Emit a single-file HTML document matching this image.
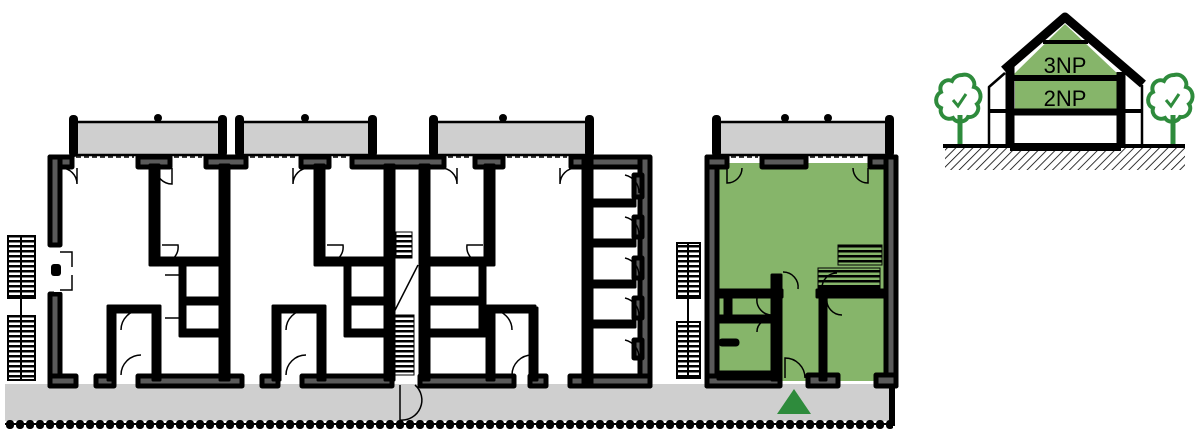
<!DOCTYPE html>
<html><head><meta charset="utf-8"><style>
html,body{margin:0;padding:0;background:#fff;width:1200px;height:442px;overflow:hidden}
svg{display:block}
text{font-family:"Liberation Sans",sans-serif}
</style></head><body>
<svg width="1200" height="442" viewBox="0 0 1200 442" xmlns="http://www.w3.org/2000/svg">
<defs>
<pattern id="hatch" width="6" height="6" patternUnits="userSpaceOnUse" patternTransform="rotate(45)">
<rect width="6" height="6" fill="#fff"/><line x1="0" y1="0" x2="0" y2="6" stroke="#000" stroke-width="1.6"/></pattern>
<pattern id="lad" width="8" height="5" patternUnits="userSpaceOnUse"><rect width="8" height="2.5" fill="#000"/></pattern>
<pattern id="dots" x="5" y="420" width="10" height="10" patternUnits="userSpaceOnUse"><rect x="1" y="0" width="8" height="9" rx="3.5" fill="#000"/></pattern>
</defs>

<rect x="5" y="384" width="890" height="37" fill="#cfcfcf"/>
<rect x="5" y="420" width="888" height="9" fill="url(#dots)"/>
<line x1="5" y1="424" x2="893" y2="424" stroke="#000" stroke-width="2"/>
<rect x="889" y="384" width="6" height="42" fill="#000"/>

<g fill="#cfcfcf" stroke="#000" stroke-width="2.5">
<rect x="72" y="122" width="153" height="33"/>
<rect x="238" y="122" width="134" height="33"/>
<rect x="433" y="122" width="156" height="33"/>
<rect x="716" y="122" width="173" height="33"/>
</g>
<g fill="#000">
<rect x="69" y="115" width="9" height="42" rx="4"/><rect x="218" y="115" width="9" height="42" rx="4"/>
<rect x="235" y="115" width="9" height="42" rx="4"/><rect x="368" y="115" width="9" height="42" rx="4"/>
<rect x="429" y="115" width="9" height="42" rx="4"/><rect x="585" y="115" width="9" height="42" rx="4"/>
<rect x="712" y="115" width="9" height="42" rx="4"/><rect x="885" y="115" width="9" height="42" rx="4"/>
<circle cx="158" cy="118" r="4"/><circle cx="305" cy="118" r="4"/><circle cx="503" cy="118" r="4"/>
<circle cx="785" cy="118" r="4"/><circle cx="828" cy="118" r="4"/>
</g>

<rect x="715" y="163" width="173" height="218" fill="#86b56a"/>

<g fill="#5a5a5a" stroke="#000" stroke-width="5" stroke-linejoin="round">
<rect x="50" y="157" width="22" height="10"/>
<rect x="138" y="157" width="32" height="10"/>
<rect x="206" y="157" width="40" height="10"/>
<rect x="301" y="157" width="28" height="10"/>
<rect x="352" y="157" width="92" height="10"/>
<rect x="475" y="157" width="28" height="10"/>
<rect x="571" y="157" width="78" height="10"/>
<rect x="50" y="157" width="10" height="88"/>
<rect x="50" y="294" width="10" height="92"/>
<rect x="640" y="157" width="10" height="229"/>
<rect x="50" y="376" width="26" height="10"/>
<rect x="96" y="376" width="18" height="10"/>
<rect x="138" y="376" width="104" height="10"/>
<rect x="262" y="376" width="16" height="10"/>
<rect x="302" y="376" width="90" height="10"/>
<rect x="420" y="376" width="94" height="10"/>
<rect x="530" y="376" width="16" height="10"/>
<rect x="570" y="376" width="80" height="10"/>
<rect x="707" y="157" width="10" height="229"/>
<rect x="707" y="157" width="20" height="10"/>
<rect x="762" y="157" width="44" height="10"/>
<rect x="870" y="157" width="26" height="10"/>
<rect x="886" y="157" width="10" height="229"/>
<rect x="707" y="376" width="73" height="10"/>
<rect x="808" y="375" width="30" height="11"/>
<rect x="876" y="375" width="20" height="11"/>
<rect x="634" y="175" width="8" height="22"/><rect x="634" y="217" width="8" height="20"/>
<rect x="634" y="258" width="8" height="20"/><rect x="634" y="298" width="8" height="20"/>
<rect x="634" y="340" width="8" height="18"/>
</g>
<rect x="54" y="248" width="8" height="44" fill="#fff"/>
<rect x="51" y="264" width="10" height="12" rx="3" fill="#000"/>
<g stroke="#000" stroke-width="1.5" stroke-dasharray="5,3">
<line x1="76" y1="157" x2="134" y2="157"/><line x1="174" y1="157" x2="202" y2="157"/>
<line x1="250" y1="157" x2="297" y2="157"/><line x1="333" y1="157" x2="348" y2="157"/>
<line x1="448" y1="157" x2="471" y2="157"/><line x1="507" y1="157" x2="567" y2="157"/>
<line x1="731" y1="157" x2="758" y2="157"/><line x1="810" y1="157" x2="866" y2="157"/>
</g>

<g fill="#000" stroke="#000" stroke-width="3" stroke-linejoin="round">
<rect x="150" y="165" width="9" height="100"/>
<rect x="160" y="258" width="65" height="7"/>
<rect x="220" y="165" width="9" height="215"/>
<rect x="180" y="298" width="45" height="6"/><rect x="180" y="330" width="45" height="6"/>
<rect x="180" y="265" width="5" height="70"/>
<rect x="108" y="308" width="7" height="72"/><rect x="108" y="306" width="48" height="6"/>
<rect x="153" y="306" width="7" height="74"/>
<rect x="315" y="165" width="9" height="100"/>
<rect x="325" y="258" width="65" height="7"/>
<rect x="385" y="165" width="9" height="215"/>
<rect x="345" y="298" width="45" height="6"/><rect x="345" y="330" width="45" height="6"/>
<rect x="345" y="265" width="5" height="70"/>
<rect x="273" y="308" width="7" height="72"/><rect x="273" y="306" width="48" height="6"/>
<rect x="318" y="306" width="7" height="74"/>
<rect x="420" y="165" width="9" height="215"/>
<rect x="430" y="258" width="58" height="7"/>
<rect x="485" y="165" width="9" height="100"/>
<rect x="430" y="298" width="55" height="6"/><rect x="430" y="330" width="55" height="6"/>
<rect x="480" y="265" width="5" height="70"/>
<rect x="487" y="306" width="48" height="6"/>
<rect x="487" y="308" width="7" height="72"/><rect x="530" y="308" width="7" height="72"/>
<rect x="583" y="160" width="9" height="225"/>
<rect x="593" y="200" width="42" height="6"/><rect x="593" y="240" width="42" height="6"/>
<rect x="593" y="281" width="42" height="6"/><rect x="593" y="321" width="42" height="6"/>
<rect x="718" y="290" width="64" height="7"/>
<rect x="817" y="290" width="68" height="7"/>
<rect x="772" y="275" width="9" height="105"/>
<rect x="820" y="297" width="6" height="83"/>
<rect x="718" y="316" width="62" height="6"/>
<rect x="725" y="297" width="6" height="20"/>
<rect x="720" y="340" width="18" height="5" rx="2"/>
<rect x="718" y="372" width="62" height="7"/>
</g>

<g fill="none" stroke="#000" stroke-width="1.5">
<path d="M77 168 v16 a16 16 0 0 0 -16 -16"/>
<path d="M172 168 v16 a16 16 0 0 1 -16 -16"/>
<path d="M293 168 v16 a16 16 0 0 1 16 -16"/>
<path d="M457 168 v16 a16 16 0 0 0 -16 -16"/>
<path d="M560 168 v16 a16 16 0 0 1 16 -16"/>
<path d="M162 245 h16 a16 16 0 0 1 -16 18"/>
<path d="M327 245 h16 a16 16 0 0 1 -16 18"/>
<path d="M483 245 h-16 a16 16 0 0 0 16 18"/>
<path d="M165 275 h15 M165 318 h15"/>
<path d="M60 252 h12 v15 M60 290 h12 v-15"/>
<path d="M121 330 a20 20 0 0 1 20 -20"/>
<path d="M121 375 a20 20 0 0 1 20 -20"/>
<path d="M286 330 a20 20 0 0 1 20 -20"/>
<path d="M286 375 a20 20 0 0 1 20 -20"/>
<path d="M512 330 a20 20 0 0 0 -20 -20"/>
<path d="M512 375 a20 20 0 0 1 20 -20"/>
<path d="M400 385 v35 a20 20 0 0 0 15 -35"/>
<path d="M625 175 a18 18 0 0 1 14 18 M625 217 a18 18 0 0 1 14 18 M625 258 a18 18 0 0 1 14 18 M625 298 a18 18 0 0 1 14 18 M625 340 a18 18 0 0 1 14 18"/>
<path d="M727 168 v15 a15 15 0 0 0 15 -15 M868 168 v15 a15 15 0 0 1 -15 -15"/>
<path d="M783 272 a15 15 0 0 1 15 17 M822 288 a15 15 0 0 1 15 -15"/>
<path d="M757 298 a15 15 0 0 0 15 17 M827 298 a15 15 0 0 0 15 17 M757 332 a12 12 0 0 1 15 -12"/>
<path d="M785 378 v-20 a20 20 0 0 1 20 20"/>
</g>

<g fill="url(#lad)" stroke="#000" stroke-width="1">
<rect x="396" y="232" width="16" height="26"/>
<rect x="394" y="315" width="20" height="60"/>
<rect x="838" y="245" width="44" height="20"/>
<rect x="818" y="268" width="62" height="20"/>
</g>
<line x1="390" y1="320" x2="418" y2="265" stroke="#000" stroke-width="1.5"/>

<g fill="url(#lad)" stroke="#000" stroke-width="2">
<rect x="8" y="236" width="27" height="62"/>
<rect x="8" y="316" width="27" height="64"/>
<rect x="677" y="243" width="23" height="55"/>
<rect x="677" y="322" width="23" height="56"/>
</g>
<line x1="21" y1="236" x2="21" y2="380" stroke="#000" stroke-width="2"/>
<line x1="688" y1="243" x2="688" y2="378" stroke="#000" stroke-width="2"/>

<polygon points="777,414 794,389 811,414" fill="#2e8b3c"/>

<rect x="945" y="148" width="240" height="22" fill="url(#hatch)"/>
<polygon points="1065,24 1013,75 1119,75" fill="#86b56a"/>
<rect x="1015" y="81" width="102" height="28" fill="#86b56a"/>
<g fill="none" stroke="#000" stroke-linejoin="round">
<polyline points="1004,70 1065,17 1143,84" stroke-width="9"/>
<line x1="1010" y1="78" x2="1122" y2="78" stroke-width="6"/>
<line x1="1043" y1="42" x2="1088" y2="42" stroke-width="4"/>
<line x1="1010" y1="112" x2="1122" y2="112" stroke-width="7"/>
<line x1="990" y1="111" x2="1142" y2="111" stroke-width="4"/>
<line x1="1010" y1="65" x2="1010" y2="148" stroke-width="9"/>
<line x1="1121" y1="72" x2="1121" y2="148" stroke-width="9"/>
<polyline points="989,145 989,87 1005,73" stroke-width="2.5"/>
<line x1="1142" y1="85" x2="1142" y2="145" stroke-width="2.5"/>
<line x1="943" y1="146" x2="1185" y2="146" stroke-width="4"/>
<line x1="1010" y1="147" x2="1121" y2="147" stroke-width="8"/>
</g>
<text x="1065" y="73" font-size="22" text-anchor="middle" fill="#000">3NP</text>
<text x="1065" y="106" font-size="22" text-anchor="middle" fill="#000">2NP</text>
<g fill="#fff" stroke="#2e8b3c" stroke-width="4">
<path d="M962 75 c8 -2 14 6 12 12 c7 2 9 12 3 17 c4 6 -2 14 -9 13 c-3 6 -12 6 -15 1 c-7 3 -14 -3 -12 -10 c-7 -3 -6 -13 0 -16 c-3 -8 5 -14 11 -11 c2 -4 6 -6 10 -6z"/>
<path d="M1174 75 c8 -2 14 6 12 12 c7 2 9 12 3 17 c4 6 -2 14 -9 13 c-3 6 -12 6 -15 1 c-7 3 -14 -3 -12 -10 c-7 -3 -6 -13 0 -16 c-3 -8 5 -14 11 -11 c2 -4 6 -6 10 -6z"/>
</g>
<g stroke="#2e8b3c" stroke-width="5" fill="none">
<line x1="960" y1="115" x2="960" y2="144"/><line x1="1173" y1="115" x2="1173" y2="144"/>
<polyline points="953,100 958,106 966,94" stroke-width="3"/>
<polyline points="1166,100 1171,106 1179,94" stroke-width="3"/>
</g>
</svg>
</body></html>
